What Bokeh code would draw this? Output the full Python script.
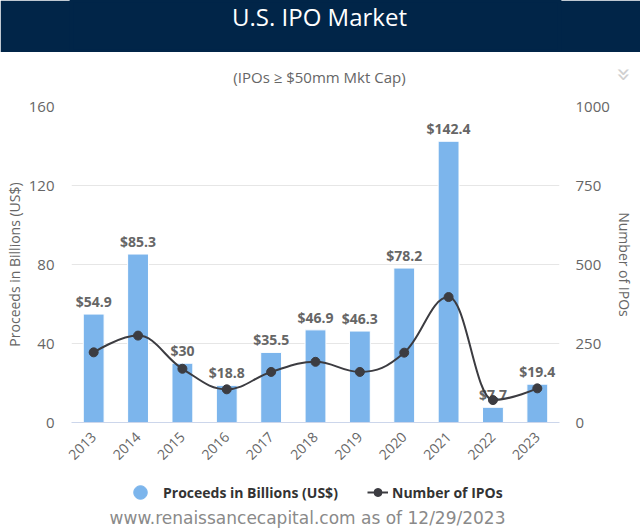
import math
from bokeh.plotting import figure
from bokeh.models import (Range1d, LinearAxis, FixedTicker, ColumnDataSource,
                          Legend, LegendItem)
from bokeh.layouts import column
from bokeh.core.properties import value
from bokeh.embed import file_html
from bokeh.resources import INLINE

# ---------------- data ----------------
years = ["2013", "2014", "2015", "2016", "2017", "2018", "2019", "2020", "2021", "2022", "2023"]
proceeds = [54.9, 85.3, 30, 18.8, 35.5, 46.9, 46.3, 78.2, 142.4, 7.7, 19.4]
ipo_counts = [222, 275, 170, 105, 160, 192, 160, 221, 397, 71, 108]
proceeds_labels = ["$" + format(v, "g") for v in proceeds]
left_ticks = [0, 40, 80, 120, 160]
right_ticks = [0, 250, 500, 750, 1000]

TITLE = "U.S. IPO Market"
SUBTITLE = "(IPOs \u2265 $50mm Mkt Cap)"
FOOTER = "www.renaissancecapital.com as of 12/29/2023"
SERIES1 = "Proceeds in Billions (US$)"
SERIES2 = "Number of IPOs"
MENU_ICON = "\u00bb"

# ---------------- style / layout ----------------
NAVY = "#012548"
BLUE = "#7cb5ec"
DARK = "#3c3c41"
GREY = "#666666"
FONT = value("Open Sans")

W = 640
FRAME_L, FRAME_R = 71, 561          # frame edges in page pixels
H_BANNER, H_HEADER, H_CHART, H_FOOTER = 52, 44, 374, 59
CH_TOP, CH_BOTTOM = 10, 48


def blank(height, fill="white"):
    f = figure(width=W, height=height, x_range=Range1d(FRAME_L, FRAME_R), y_range=Range1d(height, 0),
               toolbar_location=None, output_backend="svg", min_border=0,
               min_border_left=FRAME_L, min_border_right=W - FRAME_R,
               x_axis_location=None, y_axis_location=None,
               background_fill_color=fill, border_fill_color=fill,
               outline_line_color=fill, outline_line_width=4)
    f.grid.visible = False
    return f


# ---------------- banner ----------------
banner = blank(H_BANNER, NAVY)
banner.text(x=[320], y=[16], text=[TITLE], text_align="center", text_baseline="middle",
            text_color="white", text_font=FONT, text_font_size="24px")

# ---------------- header (subtitle + menu chevron) ----------------
header = blank(H_HEADER)
header.text(x=[320], y=[24], text=[SUBTITLE], text_align="center", text_baseline="middle",
            text_color=GREY, text_font=FONT, text_font_size="15px")
menu_axis = LinearAxis(ticker=FixedTicker(ticks=[]), axis_label=MENU_ICON)
menu_axis.axis_line_color = None
menu_axis.major_tick_line_color = None
menu_axis.minor_tick_line_color = None
menu_axis.major_tick_out = 0
menu_axis.minor_tick_out = 0
menu_axis.major_label_standoff = 0
menu_axis.axis_label_standoff = 50
menu_axis.axis_label_text_color = "#d0d0d0"
menu_axis.axis_label_text_font = "DejaVu Sans"
menu_axis.axis_label_text_font_size = "24px"
menu_axis.axis_label_text_font_style = "normal"
header.add_layout(menu_axis, "right")

# ---------------- main chart ----------------
p = figure(width=W, height=H_CHART, x_range=Range1d(-0.5, len(years) - 0.5),
           y_range=Range1d(left_ticks[0], left_ticks[-1]),
           toolbar_location=None, output_backend="svg",
           min_border_left=FRAME_L, min_border_right=W - FRAME_R,
           min_border_top=CH_TOP, min_border_bottom=CH_BOTTOM,
           outline_line_color=None, background_fill_color="white", border_fill_color="white")
p.extra_y_ranges = {"ipos": Range1d(right_ticks[0], right_ticks[-1])}

idx = list(range(len(years)))
src = ColumnDataSource(dict(x=idx, proceeds=proceeds, ipos=ipo_counts, lab=proceeds_labels))

p.xaxis.ticker = FixedTicker(ticks=idx)
p.xaxis.major_label_overrides = {i: y for i, y in zip(idx, years)}
p.xaxis.major_label_orientation = math.pi / 4
p.xaxis.axis_line_color = "#ccd6eb"
p.xaxis.major_tick_line_color = None
p.xaxis.major_tick_out = 0
p.xaxis.minor_tick_line_color = None
p.xaxis.major_label_text_color = GREY
p.xaxis.major_label_text_font = "Open Sans"
p.xaxis.major_label_text_font_size = "14px"
p.xaxis.major_label_standoff = 12

ya = p.yaxis[0]
ya.ticker = FixedTicker(ticks=left_ticks)
ya.axis_line_color = None
ya.major_tick_line_color = None
ya.major_tick_out = 0
ya.minor_tick_line_color = None
ya.major_label_text_color = GREY
ya.major_label_text_font = "Open Sans"
ya.major_label_text_font_size = "15px"
ya.major_label_standoff = 17
ya.axis_label = SERIES1
ya.axis_label_text_font = "Open Sans"
ya.axis_label_text_font_size = "14px"
ya.axis_label_text_font_style = "normal"
ya.axis_label_text_color = GREY
ya.axis_label_standoff = 2

ra = LinearAxis(y_range_name="ipos", ticker=FixedTicker(ticks=right_ticks), axis_label=SERIES2)
ra.axis_line_color = None
ra.major_tick_line_color = None
ra.major_tick_out = 0
ra.minor_tick_line_color = None
ra.major_label_text_color = GREY
ra.major_label_text_font = "Open Sans"
ra.major_label_text_font_size = "15px"
ra.major_label_standoff = 16
ra.axis_label_text_font = "Open Sans"
ra.axis_label_text_font_size = "14px"
ra.axis_label_text_font_style = "normal"
ra.axis_label_text_color = GREY
ra.axis_label_standoff = 2
p.add_layout(ra, "right")

p.xgrid.visible = False
p.ygrid.grid_line_color = "#e6e6e6"
p.ygrid.ticker = FixedTicker(ticks=left_ticks)

p.vbar(x="x", top="proceeds", width=0.47, source=src, fill_color=BLUE, line_color="white", line_width=1)
p.text(x="x", y="proceeds", text="lab", source=src, text_align="center", text_baseline="bottom",
       y_offset=-3, text_color=GREY, text_font=FONT, text_font_size="14px", text_font_style="bold")


def spline_segments(xs, ys, smoothing=1.5):
    n = len(xs)
    denom = smoothing + 1
    lc = [(xs[i], ys[i]) for i in range(n)]
    rc = [(xs[i], ys[i]) for i in range(n)]
    for i in range(1, n - 1):
        px, py = xs[i], ys[i]
        lx, ly = xs[i - 1], ys[i - 1]
        nx, ny = xs[i + 1], ys[i + 1]
        lcx = (smoothing * px + lx) / denom
        lcy = (smoothing * py + ly) / denom
        rcx = (smoothing * px + nx) / denom
        rcy = (smoothing * py + ny) / denom
        corr = 0.0
        if rcx != lcx:
            corr = ((rcy - lcy) * (rcx - px)) / (rcx - lcx) + py - rcy
        lcy += corr
        rcy += corr
        if lcy > ly and lcy > py:
            lcy = max(ly, py); rcy = 2 * py - lcy
        elif lcy < ly and lcy < py:
            lcy = min(ly, py); rcy = 2 * py - lcy
        if rcy > ny and rcy > py:
            rcy = max(ny, py); lcy = 2 * py - rcy
        elif rcy < ny and rcy < py:
            rcy = min(ny, py); lcy = 2 * py - rcy
        lc[i] = (lcx, lcy)
        rc[i] = (rcx, rcy)
    seg = dict(x0=[], y0=[], x1=[], y1=[], cx0=[], cy0=[], cx1=[], cy1=[])
    for i in range(1, n):
        seg["x0"].append(xs[i - 1]); seg["y0"].append(ys[i - 1])
        seg["x1"].append(xs[i]); seg["y1"].append(ys[i])
        seg["cx0"].append(rc[i - 1][0]); seg["cy0"].append(rc[i - 1][1])
        seg["cx1"].append(lc[i][0]); seg["cy1"].append(lc[i][1])
    return seg


seg_src = ColumnDataSource(spline_segments(idx, ipo_counts))
p.bezier(x0="x0", y0="y0", x1="x1", y1="y1", cx0="cx0", cy0="cy0", cx1="cx1", cy1="cy1",
         source=seg_src, line_color=DARK, line_width=2, y_range_name="ipos")
p.scatter(x="x", y="ipos", source=src, size=9, fill_color=DARK, line_color=DARK, y_range_name="ipos")

# ---------------- footer (legend + source line) ----------------
footer = blank(H_FOOTER)
footer.text(x=[308], y=[47], text=[FOOTER], text_align="center", text_baseline="middle",
            text_color="#8a8a8a", text_font=value("DejaVu Sans"), text_font_size="17px")
# legend swatches: single points placed far outside the visible range
off = [-1.0e6]
dummy_dot = footer.scatter(x=off, y=off, marker="circle", fill_color=BLUE, line_color=BLUE)
dummy_line = footer.line(x=off, y=off, line_color=DARK, line_width=2)
dummy_mark = footer.scatter(x=off, y=off, marker="circle", fill_color=DARK, line_color=DARK)

common = dict(padding=0, margin=0, border_line_color=None, background_fill_alpha=0,
              label_text_font="Open Sans", label_text_font_size="14px",
              label_text_font_style="bold", label_text_color="#333333")
leg1 = Legend(items=[LegendItem(label=SERIES1, renderers=[dummy_dot])],
              location=(123 - FRAME_L, 20), glyph_width=34, glyph_height=34, label_standoff=6, **common)
leg2 = Legend(items=[LegendItem(label=SERIES2, renderers=[dummy_line, dummy_mark])],
              location=(367 - FRAME_L, 27), glyph_width=21, glyph_height=20, label_standoff=4, **common)
footer.add_layout(leg1)
footer.add_layout(leg2)

layout = column(banner, header, p, footer, spacing=0)
open("out.html", "w").write(file_html(layout, INLINE))
